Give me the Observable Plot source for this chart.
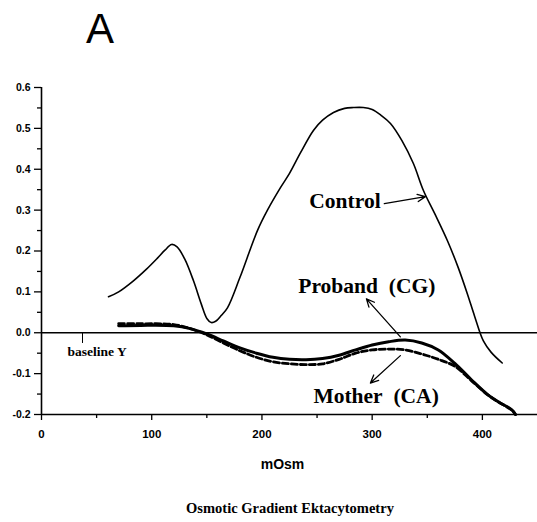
<!DOCTYPE html>
<html><head><meta charset="utf-8">
<script src="https://cdn.jsdelivr.net/npm/d3@7"></script>
<script src="https://cdn.jsdelivr.net/npm/@observablehq/plot@0.6"></script>
<style>
body{margin:0;background:#fff;}
#wrap{position:relative;width:537px;height:522px;overflow:hidden;background:#fff;}
#title{position:absolute;left:86px;top:8px;font:400 42px/42px "Liberation Sans",Arial,sans-serif;color:#000;}
#chart{position:absolute;left:0;top:60px;}
#caption{position:absolute;left:0;width:580px;top:499px;text-align:center;font:bold 14.5px/18px "Liberation Serif","Times New Roman",serif;color:#000;}
</style></head>
<body>
<div id="wrap">
  <div id="title">A</div>
  <div id="chart"></div>
  <div id="caption">Osmotic Gradient Ektacytometry</div>
</div>
<script>
// ---- data (mOsm, deformability index) ----
const controlX = [60.8,70,83.4,95,105,112,118,123,130,137.9,145,150,154,158,163,168.7,180,195.9,205,216.8,225,234.9,246.7,255,264.9,275,283,292,300,308,316.6,327,337.4,346.5,357,368.3,378,386.4,393,400.9,408,418];
const controlY = [0.088,0.10,0.127,0.155,0.182,0.202,0.216,0.21,0.18,0.127,0.07,0.035,0.025,0.028,0.042,0.061,0.135,0.25,0.3,0.355,0.39,0.44,0.495,0.52,0.539,0.549,0.551,0.551,0.546,0.532,0.512,0.47,0.414,0.348,0.29,0.225,0.16,0.095,0.04,-0.02,-0.048,-0.074];

const probandX = [70,90,120,135,150,165,180,195,210,225,240,255,270,285,300,315,330,345,360,375,390,405,415,425,428,430];
const probandY = [0.017,0.018,0.017,0.01,-0.003,-0.02,-0.037,-0.05,-0.06,-0.065,-0.066,-0.063,-0.055,-0.042,-0.03,-0.022,-0.018,-0.025,-0.042,-0.075,-0.115,-0.152,-0.17,-0.185,-0.192,-0.2];

const motherX = [70,90,120,135,150,165,180,195,210,225,240,255,270,285,300,315,330,345,360,375,390,405,415,425,428,430];
const motherY = [0.022,0.022,0.02,0.01,-0.005,-0.025,-0.044,-0.06,-0.071,-0.076,-0.078,-0.076,-0.065,-0.05,-0.042,-0.04,-0.042,-0.052,-0.065,-0.082,-0.117,-0.152,-0.17,-0.186,-0.193,-0.2];

const xTicks = [0,100,200,300,400];
const xTickLabels = ["0","100","200","300","400"];
const xMinorTicks = [50,150,250,350];
const yTicks = [-0.2,-0.1,0.0,0.1,0.2,0.3,0.4,0.5,0.6];
const yTickLabels = ["-0.2","-0.1","0.0","0.1","0.2","0.3","0.4","0.5","0.6"];
const yMinorTicks = [-0.15,-0.05,0.05,0.15,0.25,0.35,0.45,0.55];

// annotations
const labelText = ["Control","Proband\u00a0\u00a0(CG)","Mother\u00a0\u00a0(CA)"];
const labelX = [243,233,246.7];
const labelY = [0.304,0.098,-0.172];
const arrowX1 = [311,325.6,325.6];
const arrowY1 = [0.316,-0.010,-0.056];
const arrowX2 = [348.3,294.8,298.4];
const arrowY2 = [0.333,0.083,-0.123];
const baselineLabel = "baseline Y";
const baselineX = 23.6, baselineY = -0.056;
const baselineTickX = 37.2, baselineTickY1 = 0, baselineTickY2 = -0.025;

// ---- build ----
const toRows = (xs, ys) => xs.map((x, i) => ({x, y: ys[i]}));
const control = toRows(controlX, controlY);
const proband = toRows(probandX, probandY);
const mother = toRows(motherX, motherY);
const labels = labelText.map((t, i) => ({t, x: labelX[i], y: labelY[i]}));
const arrows = arrowX1.map((x1, i) => ({x1, y1: arrowY1[i], x2: arrowX2[i], y2: arrowY2[i]}));

const tickFont = {fontFamily: "'Liberation Sans', Arial, sans-serif", fontSize: 11.5, fontWeight: "bold"};
const serif = "'Liberation Serif', 'Times New Roman', serif";

const chart = Plot.plot({
  width: 537,
  height: 430,
  marginLeft: 41,
  marginRight: 0,
  marginTop: 27,
  marginBottom: 76,
  style: {background: "transparent", color: "#000", fontFamily: "'Liberation Sans', Arial, sans-serif"},
  x: {domain: [0, 450]},
  y: {domain: [-0.2, 0.6]},
  marks: [
    Plot.axisX({ticks: xTicks, tickFormat: d => xTickLabels[xTicks.indexOf(d)], tickSize: 6, tickPadding: 9, label: null, ...tickFont, strokeWidth: 1.3}),
    Plot.axisX({ticks: xMinorTicks, tickSize: 4, text: null, label: null, strokeWidth: 1.3}),
    Plot.axisY({ticks: yTicks, tickFormat: d => yTickLabels[yTicks.findIndex(v => Math.abs(v - d) < 1e-9)], tickSize: 7, tickPadding: 4, label: null, fontFamily: tickFont.fontFamily, fontSize: 10.5, fontWeight: "bold", strokeWidth: 1.3}),
    Plot.axisY({ticks: yMinorTicks, tickSize: 4, text: null, label: null, strokeWidth: 1.3}),
    Plot.ruleX([0], {y1: -0.2, y2: 0.6, strokeWidth: 1.6}),
    Plot.ruleY([-0.2], {strokeWidth: 1.6}),
    Plot.ruleY([0], {strokeWidth: 1.5}),
    Plot.line(control, {x: "x", y: "y", curve: "catmull-rom", strokeWidth: 1.6, stroke: "#000"}),
    Plot.line(proband, {x: "x", y: "y", curve: "catmull-rom", strokeWidth: 3, stroke: "#000"}),
    Plot.line(mother, {x: "x", y: "y", curve: "catmull-rom", strokeWidth: 2.8, stroke: "#000", strokeDasharray: "6,3"}),
    Plot.arrow(arrows, {x1: "x1", y1: "y1", x2: "x2", y2: "y2", stroke: "#000", strokeWidth: 1.3, headLength: 10, headAngle: 50}),
    Plot.text(labels, {x: "x", y: "y", text: "t", textAnchor: "start", lineAnchor: "bottom", fontFamily: serif, fontWeight: "bold", fontSize: 21.5, fill: "#000"}),
    Plot.link([{x: baselineTickX, y1: baselineTickY1, y2: baselineTickY2}], {x1: "x", x2: "x", y1: "y1", y2: "y2", stroke: "#000", strokeWidth: 1}),
    Plot.text([baselineLabel], {x: baselineX, y: baselineY, textAnchor: "start", lineAnchor: "bottom", fontFamily: serif, fontWeight: "bold", fontSize: 13.5, fill: "#000"}),
    Plot.text(["mOsm"], {frameAnchor: "bottom", dx: -7, dy: 54, lineAnchor: "bottom", fontFamily: "'Liberation Sans', Arial, sans-serif", fontWeight: "bold", fontSize: 14, fill: "#000", style: {letterSpacing: "0.5px"}})
  ]
});
document.getElementById("chart").appendChild(chart);
</script>
</body></html>
